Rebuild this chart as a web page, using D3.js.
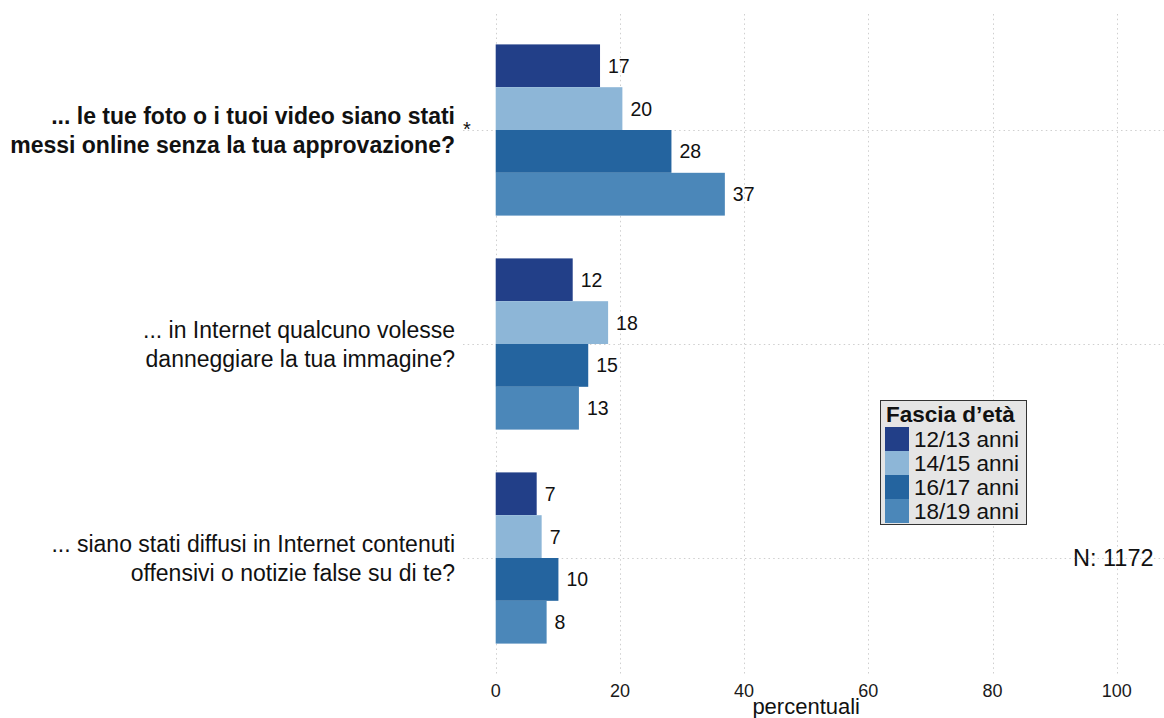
<!DOCTYPE html>
<html><head><meta charset="utf-8">
<script src="https://cdn.jsdelivr.net/npm/d3@7"></script>
<style>body{margin:0;background:#fff}svg{display:block;font-family:"Liberation Sans",Arial,Helvetica,sans-serif}</style>
</head><body><svg id="c" width="1164" height="718"></svg>
<script>
const categories = [
  ["... le tue foto o i tuoi video siano stati", "messi online senza la tua approvazione?"],
  ["... in Internet qualcuno volesse", "danneggiare la tua immagine?"],
  ["... siano stati diffusi in Internet contenuti", "offensivi o notizie false su di te?"]
];
const boldCategory = [true, false, false];
const starCategory = [true, false, false];
const groups = ["12/13 anni", "14/15 anni", "16/17 anni", "18/19 anni"];
const colors = ["#223f88", "#8db6d7", "#24649f", "#4b87b9"];
const values = [
  [16.8, 20.4, 28.3, 36.9],
  [12.4, 18.1, 14.9, 13.4],
  [6.6, 7.4, 10.1, 8.2]
];
const xTicks = [0, 20, 40, 60, 80, 100];
const legendTitle = "Fascia d\u2019età";
const nLabel = "N: 1172";
const xLabel = "percentuali";

const svg = d3.select("#c");
const x = d3.scaleLinear().domain([0, 100]).range([495.7, 1116.7]);
const y = d3.scaleBand().domain(d3.range(categories.length)).range([23, 665]).paddingInner(0.2).paddingOuter(0.1);
const ys = d3.scaleBand().domain(d3.range(groups.length)).range([0, y.bandwidth()]);

// grid
const grid = svg.append("g").attr("stroke", "#cfcfcf").attr("stroke-width", 1).attr("stroke-dasharray", "1.5,3.2");
grid.selectAll("line.v").data(xTicks).join("line")
  .attr("x1", d => Math.round(x(d)) + 0.5).attr("x2", d => Math.round(x(d)) + 0.5)
  .attr("y1", 14).attr("y2", 676);
grid.selectAll("line.h").data(d3.range(categories.length)).join("line")
  .attr("x1", 463).attr("x2", 1164)
  .attr("y1", d => Math.round(y(d) + y.bandwidth() / 2) + 0.5)
  .attr("y2", d => Math.round(y(d) + y.bandwidth() / 2) + 0.5);

// bars
const gBars = svg.append("g");
values.forEach((row, ci) => {
  const g = gBars.append("g").attr("transform", `translate(0,${y(ci)})`);
  g.selectAll("rect").data(row).join("rect")
    .attr("x", x(0)).attr("y", (d, i) => ys(i))
    .attr("width", d => x(d) - x(0)).attr("height", ys.bandwidth())
    .attr("fill", (d, i) => colors[i]);
  g.selectAll("text").data(row).join("text")
    .attr("x", d => x(d) + 8).attr("y", (d, i) => ys(i) + ys.bandwidth() / 2)
    .attr("dy", "0.36em").attr("font-size", 19.5).attr("fill", "#111")
    .text(d => d3.format(".0f")(d));
});

// category labels
categories.forEach((lines, ci) => {
  const cy = y(ci) + y.bandwidth() / 2;
  const t = svg.append("text").attr("text-anchor", "end").attr("font-size", 23)
    .attr("font-weight", boldCategory[ci] ? "bold" : "normal").attr("fill", "#111");
  lines.forEach((ln, li) => {
    t.append("tspan").attr("x", 455).attr("y", cy + (li - (lines.length - 1) / 2) * 29).attr("dy", "0.36em").text(ln);
  });
  if (starCategory[ci]) {
    svg.append("text").attr("x", 467).attr("y", cy + 6).attr("text-anchor", "middle")
      .attr("font-size", 20).attr("fill", "#111").text("*");
  }
});

// x axis
svg.append("g").selectAll("text").data(xTicks).join("text")
  .attr("x", d => x(d)).attr("y", 697).attr("text-anchor", "middle")
  .attr("font-size", 18).attr("fill", "#1a1a1a").text(d => d);
svg.append("text").attr("x", (x(0) + x(100)) / 2).attr("y", 714).attr("text-anchor", "middle")
  .attr("font-size", 22).attr("fill", "#111").text(xLabel);

// N label
svg.append("text").attr("x", 1073).attr("y", 558).attr("dy", "0.36em")
  .attr("font-size", 23.5).attr("fill", "#111").text(nLabel);

// legend
const lg = svg.append("g").attr("transform", "translate(880,400)");
lg.append("rect").attr("x", 0.5).attr("y", 0.5).attr("width", 146).attr("height", 124)
  .attr("fill", "#e5e5e5").attr("stroke", "#333").attr("stroke-width", 1);
lg.append("text").attr("x", 6).attr("y", 22).attr("font-size", 22.5).attr("font-weight", "bold")
  .attr("fill", "#111").text(legendTitle);
groups.forEach((gname, i) => {
  lg.append("rect").attr("x", 5).attr("y", 27 + i * 24).attr("width", 24).attr("height", 24).attr("fill", colors[i]);
  lg.append("text").attr("x", 34).attr("y", 27 + i * 24 + 12).attr("dy", "0.36em")
    .attr("font-size", 22.5).attr("fill", "#111").text(gname);
});
</script></body></html>
